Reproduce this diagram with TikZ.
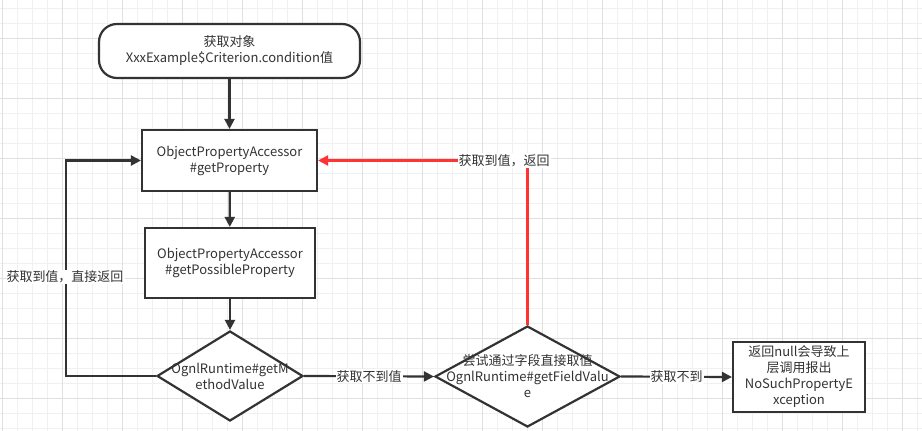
\documentclass[tikz,border=0pt]{standalone}
\usepackage{fontspec}
\setmainfont{Noto Sans CJK SC}
\usetikzlibrary{shapes.geometric,arrows.meta}
\definecolor{ink}{HTML}{333333}
\definecolor{redline}{HTML}{FF3333}
\definecolor{gridminor}{HTML}{F0F0F0}
\definecolor{gridmajor}{HTML}{E0E0E0}
\begin{document}
\begin{tikzpicture}[x=1pt,y=-1pt,
  every node/.style={font=\fontsize{13}{16}\selectfont, text=ink},
  boxnode/.style={draw=ink, line width=2.2pt, fill=white, align=center, inner sep=0pt},
  dia/.style={diamond, draw=ink, line width=2.2pt, fill=white, inner sep=0pt},
  conn/.style={draw=ink, line width=2.2pt, -{Triangle[length=10pt,width=10pt]}},
  redconn/.style={draw=redline, line width=2.2pt, -{Triangle[length=10pt,width=10pt]}},
  elabel/.style={fill=white, inner sep=1pt, align=center}]
\useasboundingbox (0,0) rectangle (922,431);
\fill[white] (0,0) rectangle (922,431);
% grid
\foreach \x in {2,17,...,922} \draw[gridminor, line width=1pt] (\x,0) -- (\x,431);
\foreach \y in {8,23,...,431} \draw[gridminor, line width=1pt] (0,\y) -- (922,\y);
\foreach \x in {2,62,...,922} \draw[gridmajor, line width=1pt] (\x,0) -- (\x,431);
\foreach \y in {38,98,...,431} \draw[gridmajor, line width=1pt] (0,\y) -- (922,\y);
% nodes
\node[boxnode, rounded corners=18pt, minimum width=261pt, minimum height=54pt] (start) at (229.5,51) {获取对象\\XxxExample\$Criterion.condition值};
\node[boxnode, minimum width=175pt, minimum height=61pt] (gp) at (229.5,160.5) {ObjectPropertyAccessor\\\#getProperty};
\node[boxnode, minimum width=170pt, minimum height=70pt] (gpp) at (230,263) {ObjectPropertyAccessor\\\#getPossibleProperty};
\node[dia, minimum width=146pt, minimum height=90pt] (d1) at (230,376) {};
\node[align=center, inner sep=0pt] (d1t) at (d1.center) {OgnlRuntime\#getM\\ethodValue};
\node[dia, minimum width=185pt, minimum height=101pt] (d2) at (527.5,376.5) {};
\node[align=center, inner sep=0pt] (d2t) at (d2.center) {尝试通过字段直接取值\\OgnlRuntime\#getFieldValu\\e};
\node[boxnode, minimum width=132pt, minimum height=70pt] (ret) at (799,377) {返回null会导致上\\层调用报出\\NoSuchPropertyE\\xception};
% connectors
\draw[conn] (start) -- (gp);
\draw[conn] (gp) -- (gpp);
\draw[conn] (gpp) -- (d1);
\draw[conn] (d1.west) -- (66,376) -- (66,160.5) -- (gp.west);
\node[elabel] (lblleft) at (65,277) {获取到值，直接返回};
\draw[conn] (d1.east) -- node[elabel] (lblmid) {获取不到值} (d2.west);
\draw[conn] (d2.east) -- node[elabel] (lblright) {获取不到} (ret.west);
\draw[redconn] (d2.north) -- (527.5,160.5) -- (gp.east);
\node[elabel] (lbltop) at (504,160.5) {获取到值，返回};
\end{tikzpicture}
\end{document}
